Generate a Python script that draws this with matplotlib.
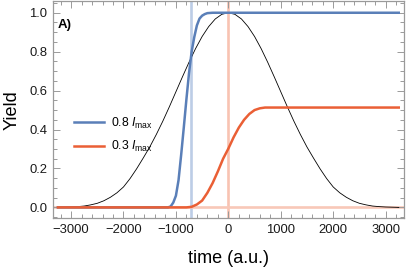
import matplotlib
matplotlib.use("Agg")
import matplotlib.pyplot as plt
from matplotlib.ticker import MultipleLocator

plt.rcParams["font.family"] = ["Liberation Sans", "DejaVu Sans"]
plt.rcParams["mathtext.fontset"] = "custom"
plt.rcParams["mathtext.rm"] = "Liberation Sans"
plt.rcParams["mathtext.it"] = "Liberation Sans:italic"

# pulse intensity (black)
t_pulse = [-3250, -3125, -3000, -2875, -2750, -2625, -2500, -2375, -2250, -2125,
           -2000, -1875, -1750, -1625, -1500, -1375, -1250, -1125, -1000, -875,
           -750, -625, -500, -375, -250, -125, 0, 125, 250, 375, 500, 625, 750,
           875, 1000, 1125, 1250, 1375, 1500, 1625, 1750, 1875, 2000, 2125,
           2250, 2375, 2500, 2625, 2750, 2875, 3000, 3125, 3250]
pulse = [0.0, 0.001, 0.002, 0.004, 0.007, 0.013, 0.021, 0.034, 0.052, 0.075,
         0.105, 0.148, 0.198, 0.253, 0.310, 0.374, 0.443, 0.517, 0.594, 0.671,
         0.746, 0.816, 0.878, 0.929, 0.968, 0.992, 1.000, 0.992, 0.968, 0.929,
         0.878, 0.816, 0.746, 0.671, 0.594, 0.517, 0.443, 0.374, 0.310, 0.253,
         0.198, 0.148, 0.105, 0.075, 0.052, 0.034, 0.021, 0.013, 0.007, 0.004,
         0.002, 0.001, 0.0]

# yield at 0.8 I_max
t_hi = [-3250, -1150, -1100, -1050, -1000, -950, -900, -850, -800, -750, -700,
        -650, -600, -550, -500, -450, -400, -300, 3250]
yield_hi = [0.0, 0.0, 0.005, 0.025, 0.06, 0.14, 0.27, 0.41, 0.555, 0.69, 0.80,
            0.875, 0.935, 0.97, 0.985, 0.993, 0.998, 1.0, 1.0]

# yield at 0.3 I_max
t_lo = [-3250, -800, -700, -600, -500, -400, -300, -200, -100, 0, 100, 200,
        300, 400, 500, 600, 700, 800, 3250]
yield_lo = [0.0, 0.0, 0.003, 0.015, 0.035, 0.075, 0.125, 0.185, 0.25, 0.302,
            0.36, 0.41, 0.45, 0.48, 0.50, 0.509, 0.513, 0.513, 0.513]

t_mark_hi = -720
t_mark_lo = 0

BLUE = "#5a7fb8"
ORANGE = "#ea5f35"
FRAME = "#9a9a9a"

fig = plt.figure(figsize=(4.07, 2.69), dpi=100)
ax = fig.add_axes([0.1295, 0.1885, 0.8631, 0.8075])

ax.axvline(t_mark_hi, color="#bccde6", lw=1.9, zorder=1)
ax.axvline(t_mark_lo, color="#f8c3b2", lw=1.9, zorder=1)
ax.axhline(0, color="#f8c8b8", lw=1.9, zorder=1)

ax.plot(t_pulse, pulse, color="black", lw=0.6, zorder=3)
ax.plot(t_hi, yield_hi, color=BLUE, lw=1.8, zorder=4,
        label=r"0.8 $I_{\mathrm{max}}$")
ax.plot(t_lo, yield_lo, color=ORANGE, lw=1.8, zorder=4,
        label=r"0.3 $I_{\mathrm{max}}$")

ax.set_xlim(-3350, 3350)
ax.set_ylim(-0.056, 1.06)
ax.xaxis.set_major_locator(MultipleLocator(1000))
ax.xaxis.set_minor_locator(MultipleLocator(200))
ax.yaxis.set_major_locator(MultipleLocator(0.2))
ax.yaxis.set_minor_locator(MultipleLocator(0.05))
ax.set_yticks([0, 0.2, 0.4, 0.6, 0.8, 1.0])
ax.set_yticklabels(["0.0", "0.2", "0.4", "0.6", "0.8", "1.0"])
ax.set_xticks([-3000, -2000, -1000, 0, 1000, 2000, 3000])
ax.set_xticklabels(["\u22123000", "\u22122000", "\u22121000", "0", "1000", "2000", "3000"])

ax.tick_params(which="both", direction="in", top=True, right=True,
               color=FRAME, labelsize=9.4, labelcolor="#1a1a1a", width=0.7)
ax.tick_params(which="major", length=5, pad=4)
ax.tick_params(which="minor", length=2.8)
for s in ax.spines.values():
    s.set_color(FRAME)
    s.set_linewidth(0.9)

ax.set_xlabel("time (a.u.)", fontsize=13, labelpad=10)
ax.set_ylabel("Yield", fontsize=13, labelpad=6)

ax.text(0.013, 0.89, "A)", transform=ax.transAxes, fontsize=9.5,
        fontweight="bold", va="center", ha="left")

ax.legend(loc="center left", bbox_to_anchor=(0.035, 0.384), frameon=False,
          fontsize=8.8, handlelength=2.5, handletextpad=0.6, labelspacing=0.7,
          borderpad=0.2)

fig.savefig("out.png", dpi=100)
